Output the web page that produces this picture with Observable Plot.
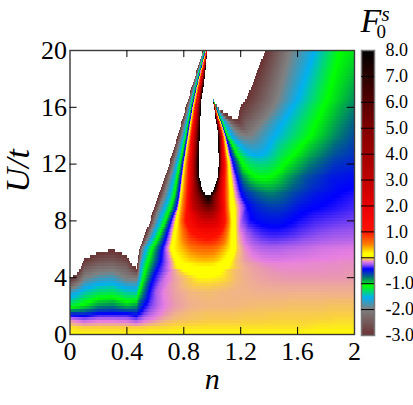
<!DOCTYPE html>
<html><head><meta charset="utf-8">
<script src="https://cdn.jsdelivr.net/npm/d3@7"></script>
<script src="https://cdn.jsdelivr.net/npm/@observablehq/plot@0.6"></script>
<style>html,body{margin:0;padding:0;background:#fff;overflow:hidden}#c{position:relative;width:413px;height:405px}svg{display:block;overflow:hidden}#c>svg:nth-child(2){position:absolute;left:357px;top:0}</style>
</head><body><div id="c"></div>
<script>
const xTicks=[0,.4,.8,1.2,1.6,2];
const yTicks=[0,4,8,12,16,20];
const barTicks=[-3,-2,-1,0,1,2,3,4,5,6,7,8];
const colorStops=[-3,-2,-1.55,-1.1,-.75,-.45,-.3,-.17,-.135,-.1,-.05,0,.15,.5,1,2,3,5,7,8];
const colorRange=["#6a3232","#808080","#00b0f0","#00ff00","#006880","#0000ff","#9050f0","#e880e0","#e898b0","#f0b090","#fad040","#ffff00","#ffff00","#ff8000","#ff1000","#e80000","#c00000","#800000","#2a0000","#000000"];
const rowU=[0,.5,1,1.5,2,3,4,4.5,5,6,7,8,9,9.7,10,11,12,14,16,16.6,18,20];
const lobeN=[0,.1,.2,.3,.4,.47];
const lobeF=[
[0,0,0,0,0,0],
[-.03,-.05,-.05,-.05,-.05,-.05],
[-.15,-.25,-.2,-.2,-.22,-.3],
[-.6,-.6,-.48,-.47,-.47,-.55],
[-1.2,-1.05,-.85,-.8,-.95,-.85],
[-1.75,-1.45,-1.3,-1.27,-1.42,-1.45],
[-3.1,-2,-1.8,-1.75,-2.03,-2.05],
[-4.05,-2.35,-2.1,-2.05,-2.3,-2.8],
[-5,-2.75,-2.45,-2.4,-2.6,-3.5],
[-6,-3.5,-3.15,-3.02,-3.3,-4.5],
[-6,-6,-6,-6,-6,-6],[-6,-6,-6,-6,-6,-6],[-6,-6,-6,-6,-6,-6],[-6,-6,-6,-6,-6,-6],[-6,-6,-6,-6,-6,-6],
[-6,-6,-6,-6,-6,-6],[-6,-6,-6,-6,-6,-6],[-6,-6,-6,-6,-6,-6],[-6,-6,-6,-6,-6,-6],[-6,-6,-6,-6,-6,-6],[-6,-6,-6,-6,-6,-6],[-6,-6,-6,-6,-6,-6]];
const lowLeftN=[.475,.482,.496,.524,.566,.622,.671,.742,.847,.973];
const lowRightN=[1.029,1.072,1.114,1.163,1.233,1.339,1.444,1.549,1.655,1.76,1.831,1.866,1.901,1.936,1.971,2];
const bandN=[
[...lowLeftN,...lowRightN],
[...lowLeftN,...lowRightN],
[...lowLeftN,...lowRightN],
[...lowLeftN,...lowRightN],
[...lowLeftN,...lowRightN],
[.475,.482,.496,.517,.559,.601,.657,.742,.847,.973,...lowRightN],
[.475,.482,.489,.517,.587,.671,.742,.847,.917,.973,...lowRightN],
[.475,.485,.497,.53,.61,.72,.763,.798,.868,.973,1.008,1.072,1.107,1.163,1.233,1.32,1.41,1.5,1.6,1.7,1.78,1.83,1.87,1.92,1.96,2],
[.475,.489,.506,.545,.636,.784,.847,.903,.938,.973,1.008,1.044,1.079,1.107,1.163,1.233,1.304,1.374,1.444,1.514,1.585,1.655,1.725,1.831,1.915,2],
[.487,.506,.534,.576,.65,.727,.847,.903,.938,.973,1.008,1.044,1.086,1.135,1.177,1.233,1.289,1.346,1.402,1.458,1.514,1.585,1.655,1.76,1.866,2],
[.527,.559,.59,.629,.682,.742,.847,.903,.938,.973,1.008,1.044,1.086,1.138,1.184,1.24,1.296,1.353,1.409,1.465,1.521,1.585,1.655,1.76,1.866,2],
[.564,.597,.629,.671,.711,.755,.812,.903,.938,.973,1.008,1.044,1.093,1.14,1.212,1.268,1.325,1.374,1.423,1.465,1.507,1.549,1.606,1.725,1.866,2],
[.597,.629,.671,.71,.752,.769,.822,.868,.938,.973,1.008,1.047,1.089,1.13,1.251,1.296,1.339,1.381,1.423,1.465,1.507,1.564,1.62,1.69,1.76,2],
[.622,.661,.699,.732,.766,.78,.826,.861,.972,.973,.974,1.048,1.086,1.128,1.212,1.254,1.296,1.339,1.381,1.423,1.465,1.528,1.599,1.732,1.873,2],
[.631,.671,.706,.738,.769,.784,.828,.862,.942,.973,1.005,1.051,1.086,1.128,1.202,1.24,1.282,1.325,1.367,1.409,1.451,1.515,1.585,1.725,1.908,2],
[.664,.699,.729,.755,.782,.794,.833,.864,.91,.973,1.039,1.061,1.089,1.121,1.177,1.219,1.268,1.311,1.346,1.374,1.409,1.458,1.528,1.655,1.831,2],
[.698,.73,.753,.775,.795,.806,.836,.866,.905,.973,1.047,1.068,1.093,1.117,1.149,1.212,1.268,1.311,1.339,1.36,1.395,1.444,1.515,1.69,1.866,2],
[.759,.784,.801,.815,.827,.837,.854,.878,.914,.973,1.044,1.065,1.075,1.086,1.096,1.107,1.135,1.184,1.219,1.247,1.275,1.311,1.444,1.694,1.866,2],
[.815,.833,.844,.851,.861,.868,.882,.899,.921,.966,1.014,1.018,1.021,1.024,1.027,1.029,1.032,1.035,1.038,1.113,1.198,1.433,1.567,1.786,1.901,2],
[.833,.847,.857,.864,.872,.881,.892,.907,.926,.966,1.006,1.006,1.006,1.006,1.006,1.006,1.006,1.006,1.006,1.093,1.242,1.462,1.605,1.813,1.901,2],
[.875,.886,.893,.898,.904,.91,.918,.931,.948,.977,1.015,1.015,1.015,1.015,1.015,1.015,1.015,1.015,1.015,1.163,1.301,1.498,1.654,1.85,1.929,2],
[.936,.941,.945,.949,.954,.959,.963,.966,.968,.984,1.022,1.022,1.022,1.022,1.022,1.022,1.022,1.022,1.022,1.198,1.374,1.549,1.725,1.901,1.95,2]];
const leftLevels=[-3,-2,-1.55,-1.1,-.45,.15,1,3,8];
const rightLevels=[8,3,1,.15,-.45,-1.1,-1.55,-2,-3];
const bandF=[
[0,0,0,0,0,0,0,0,0,0,0,0,0,0,0,0,0,0,0,0,0,0,0,0,0,0],
[-.05,-.05,-.05,-.05,-.04,-.04,-.04,-.03,-.03,-.03,-.03,-.03,-.03,-.03,-.03,-.03,-.03,-.03,-.03,-.02,-.02,-.02,-.02,-.02,-.02,-.02],
[-.28,-.27,-.25,-.2,-.17,-.13,-.1,-.08,-.07,-.06,-.06,-.06,-.06,-.06,-.055,-.055,-.05,-.05,-.05,-.045,-.045,-.04,-.04,-.04,-.04,-.04],
[-.5,-.46,-.42,-.33,-.25,-.18,-.14,-.1,-.08,-.07,-.07,-.07,-.07,-.07,-.065,-.065,-.06,-.06,-.06,-.06,-.055,-.055,-.055,-.055,-.055,-.055],
[-.8,-.7,-.6,-.45,-.33,-.23,-.17,-.13,-.1,-.09,-.09,-.09,-.09,-.09,-.085,-.08,-.08,-.075,-.075,-.075,-.07,-.07,-.07,-.07,-.07,-.07],
[-1.3,-1.15,-1,-.8,-.45,-.28,-.17,-.12,-.09,-.08,-.085,-.09,-.09,-.095,-.095,-.1,-.1,-.1,-.1,-.1,-.1,-.1,-.1,-.1,-.1,-.1],
[-1.95,-1.8,-1.55,-1.1,-.45,-.2,-.12,-.05,-.01,-.01,-.02,-.03,-.05,-.08,-.1,-.12,-.13,-.135,-.135,-.135,-.135,-.135,-.135,-.135,-.13,-.13],
[-2.7,-2,-1.55,-1.1,-.45,-.14,-.07,0,.05,.07,.05,0,-.04,-.08,-.105,-.125,-.14,-.15,-.15,-.15,-.15,-.145,-.145,-.145,-.14,-.14],
[-3,-2,-1.55,-1.1,-.45,.15,.2,.24,.25,.25,.24,.18,.1,.03,-.07,-.12,-.14,-.16,-.165,-.165,-.16,-.16,-.155,-.155,-.15,-.15],
[-3,-2,-1.55,-1.1,-.45,.15,.5,.58,.6,.6,.58,.5,.35,.15,-.05,-.15,-.21,-.24,-.25,-.25,-.24,-.23,-.22,-.2,-.19,-.18],
[-3,-2,-1.55,-1.1,-.45,.15,.9,1.05,1.1,1.15,1.1,1,.7,.15,-.1,-.25,-.33,-.37,-.39,-.39,-.38,-.36,-.33,-.3,-.28,-.27],
[-3,-2,-1.55,-1.1,-.45,.15,1,2.2,2.5,2.6,2.5,2.1,1,.15,-.3,-.43,-.47,-.49,-.5,-.5,-.48,-.46,-.43,-.38,-.35,-.33],
[-3,-2,-1.55,-1.1,-.45,.15,1,3,4.8,5.5,4.8,3,1,.15,-.45,-.52,-.57,-.6,-.62,-.62,-.6,-.55,-.5,-.47,-.45,-.38],
[...leftLevels,8,8,3,1,.15,-.45,-.57,-.65,-.71,-.75,-.76,-.74,-.68,-.6,-.5,-.45,-.41],
[...leftLevels,9,8,3,1,.15,-.45,-.6,-.68,-.75,-.8,-.82,-.8,-.73,-.65,-.53,-.45,-.43],
[...leftLevels,11,8,3,1,.15,-.45,-.8,-1,-1.08,-1.1,-1.1,-1.08,-1.02,-.88,-.68,-.52,-.48],
[...leftLevels,12,8,3,1,.15,-.45,-1.1,-1.28,-1.33,-1.34,-1.34,-1.32,-1.25,-1.1,-.8,-.6,-.55],
[...leftLevels,12,8,3,1,.15,-.45,-1.1,-1.55,-1.9,-1.97,-2,-1.97,-1.9,-1.55,-1.1,-.83,-.67],
[...leftLevels,12,...rightLevels,-3.8,-3,-2,-1.55,-1.1,-.93,-.8],
[...leftLevels,12,...rightLevels,-6,-3,-2,-1.55,-1.1,-.98,-.85],
[...leftLevels,12,...rightLevels,-6,-3,-2,-1.55,-1.1,-1.01,-.93],
[...leftLevels,12,...rightLevels,-6,-3,-2,-1.55,-1.1,-1.07,-1.05]];

const ns=[],us=[],fs=[];
rowU.forEach((u,r)=>{
  [...lobeN,...bandN[r]].forEach((n,k)=>{ns.push(n);us.push(u);fs.push([...lobeF[r],...bandF[r]][k]);});
});
const K=lobeN.length+bandN[0].length;
// Plot.raster interpolator: follows each knot column between neighbouring rows; out-of-range values stay blank
function followKnots(index,w,h,X,Y,V){
  const out=new Float64Array(w*h).fill(NaN);
  const R=rowU.length,ry=d3.range(R).map(r=>Y[r*K]);
  const xs=new Float64Array(K),vs=new Float64Array(K);
  for(let j=0;j<h;j++){
    const yc=j+.5;
    let r=0;while(r<R-2&&!((yc-ry[r])*(yc-ry[r+1])<=0))r++;
    const t=Math.max(0,Math.min(1,(yc-ry[r])/(ry[r+1]-ry[r])));
    for(let k=0;k<K;k++){
      xs[k]=X[r*K+k]*(1-t)+X[(r+1)*K+k]*t;
      vs[k]=V[r*K+k]*(1-t)+V[(r+1)*K+k]*t;
    }
    let k=0;
    for(let i=0;i<w;i++){
      const xc=i+.5;
      while(k<K-2&&xc>xs[k+1])k++;
      const d=xs[k+1]-xs[k];
      const v=d>0?vs[k]+(vs[k+1]-vs[k])*Math.max(0,Math.min(1,(xc-xs[k])/d)):vs[k+1];
      if(v>=-3&&v<=8)out[j*w+i]=v;
    }
  }
  return out;
}
const color={type:"linear",domain:colorStops,range:colorRange,interpolate:"rgb"};
const serif="'Liberation Serif','Times New Roman',serif";
const main=Plot.plot({
  width:413,height:405,marginLeft:69.5,marginRight:59,marginTop:50,marginBottom:71,
  style:{fontFamily:serif,color:"#000",background:"#fff"},
  x:{domain:[0,2]},y:{domain:[0,20]},color,
  marks:[
    Plot.raster({length:ns.length},{x:ns,y:us,fill:fs,x1:0,x2:2,y1:0,y2:20,width:284,height:100,interpolate:followKnots,imageRendering:"pixelated"}),
    Plot.frame({stroke:"#3a3a3a",strokeWidth:1.4}),
    Plot.ruleX(xTicks.slice(1,-1),{y1:0,y2:.5,stroke:"#000"}),
    Plot.ruleX(xTicks.slice(1,-1),{y1:19.5,y2:20,stroke:"#000"}),
    Plot.ruleY(yTicks.slice(1,-1),{x1:0,x2:.05,stroke:"#000"}),
    Plot.ruleY(yTicks.slice(1,-1),{x1:1.95,x2:2,stroke:"#000"}),
    Plot.axisX(xTicks,{anchor:"bottom",tickSize:0,tickPadding:7,fontSize:26,label:null,tickFormat:d=>String(d)}),
    Plot.axisY(yTicks,{anchor:"left",tickSize:0,tickPadding:3,fontSize:26,label:null,tickFormat:d=>String(d)}),
    Plot.text(["n"],{frameAnchor:"bottom",dy:54,fontSize:30,fontStyle:"italic",fill:"#000"}),
    Plot.text(["U/t"],{frameAnchor:"left",dx:-52,rotate:-90,fontSize:34,fontStyle:"italic",fill:"#000"})
  ]
});
const bar=Plot.plot({
  width:56,height:405,marginLeft:4,marginRight:39,marginTop:50,marginBottom:70,
  style:{fontFamily:serif,color:"#000",background:"transparent"},
  x:{domain:[0,1],axis:null},y:{domain:[-3,8]},color,
  marks:[
    Plot.raster({x1:0,x2:1,y1:-3,y2:8,width:1,height:285,fill:(x,y)=>y,imageRendering:"pixelated"}),
    Plot.frame({stroke:"#777",strokeWidth:1.5}),
    Plot.ruleY(barTicks.slice(1,-1),{stroke:"#000"}),
    Plot.axisY(barTicks,{anchor:"right",tickSize:0,tickPadding:11,fontSize:18,textAnchor:"start",label:null,tickFormat:d=>d.toFixed(1)}),
    Plot.text(["F"],{frameAnchor:"top-left",dx:-1,dy:-29,fontSize:34,fontStyle:"italic",fill:"#000",textAnchor:"start",lineAnchor:"middle"}),
    Plot.text(["0"],{frameAnchor:"top-left",dx:15,dy:-19,fontSize:19,fill:"#000",textAnchor:"start",lineAnchor:"middle"}),
    Plot.text(["s"],{frameAnchor:"top-left",dx:20,dy:-36,fontSize:21,fontStyle:"italic",fill:"#000",textAnchor:"start",lineAnchor:"middle"})
  ]
});
const c=document.getElementById("c");c.append(main,bar);
</script></body></html>
